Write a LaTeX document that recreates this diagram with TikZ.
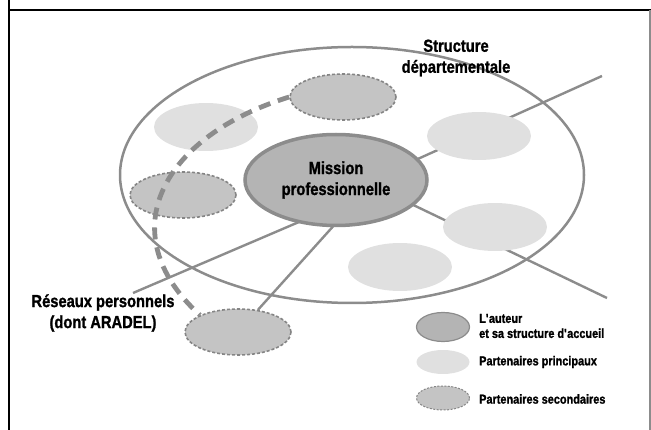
\documentclass[tikz,border=0pt]{standalone}
\usepackage{fontspec}
\setmainfont{Liberation Sans Bold}[FakeStretch=0.84, FakeBold=1.2]
\usetikzlibrary{shapes.geometric}
\definecolor{lgray}{HTML}{E0E0E0}
\definecolor{mgray}{HTML}{C4C4C4}
\definecolor{dgray}{HTML}{B4B4B4}
\definecolor{lineg}{HTML}{8C8C8C}
\definecolor{dotg}{HTML}{858585}
\tikzset{
  ell/.style={ellipse, inner sep=0pt, minimum width=#1},
  mainell/.style={ell=182pt, minimum height=91pt, fill=dgray, draw=lineg, line width=3.5pt},
  primell/.style={ell=104pt, minimum height=48pt, fill=lgray},
  secell/.style={ell=106pt, minimum height=46pt, fill=mgray, draw=dotg, line width=1.6pt, dash pattern=on 3pt off 2pt},
  link/.style={draw=lineg, line width=2.4pt},
  bigtxt/.style={font=\fontsize{17.5}{21}\selectfont, align=center},
  legtxt/.style={font=\fontsize{13}{15}\selectfont, align=left, anchor=west, inner sep=0pt},
}
\begin{document}
\begin{tikzpicture}[x=1pt, y=-1pt]
\useasboundingbox (0,0) rectangle (651,430);
% frame
\draw[black, line width=2pt] (9,0) -- (9,430);
\draw[black, line width=2pt] (9,10) -- (651,10);
\draw[lineg, line width=1.5pt] (650,10) -- (650,430);
% outer ellipse
\node[ellipse, inner sep=0pt, minimum width=464pt, minimum height=256pt, draw=lineg, line width=2.5pt] (dept) at (352,175) {};
% lines
\coordinate (a1) at (380,176);
\coordinate (r1) at (602,76);
\coordinate (a2) at (380,189);
\coordinate (r2) at (607,298);
\coordinate (a3) at (320,213);
\coordinate (r3) at (133,293);
\coordinate (a4) at (337,222);
\draw[link] (a1) -- (r1);
\draw[link] (a2) -- (r2);
\draw[link] (r3) -- (a3);
% ellipses
\node[primell] (p1) at (206,127) {};
\node[primell] (p2) at (479,136) {};
\node[primell] (p3) at (495,227) {};
\node[primell] (p4) at (400,267) {};
\node[secell] (s1) at (343,97) {};
\node[secell] (s2) at (183,195) {};
\node[secell] (s3) at (238,332) {};
\draw[link] (s3) -- (a4);
\node[mainell] (mission) at (336,180) {};
\node[bigtxt] (mtxt) at (336,180) {Mission\\professionnelle};
% dashed curve
\draw[draw=lineg, line width=4.8pt, dash pattern=on 12pt off 8pt] (s1.west) .. controls (163,136) and (109,232) .. (s3.north west);
% labels
\node[bigtxt] (dtxt) at (456,58) {Structure\\départementale};
\node[bigtxt] (rtxt) at (103,313) {Réseaux personnels\\(dont ARADEL)};
% legend
\node[ell=53pt, minimum height=29pt, fill=dgray, draw=lineg, line width=1.2pt] (l1) at (443,327) {};
\node[ell=53pt, minimum height=24pt, fill=lgray] (l2) at (443,362) {};
\node[ell=53pt, minimum height=24pt, fill=mgray, draw=dotg, line width=1pt, dash pattern=on 2pt off 1.5pt] (l3) at (443,398) {};
\node[legtxt] (t1) at (479,326) {L\textquotesingle auteur\\et sa structure d\textquotesingle accueil};
\node[legtxt] (t2) at (479,362) {Partenaires principaux};
\node[legtxt] (t3) at (479,399) {Partenaires secondaires};
\end{tikzpicture}
\end{document}
